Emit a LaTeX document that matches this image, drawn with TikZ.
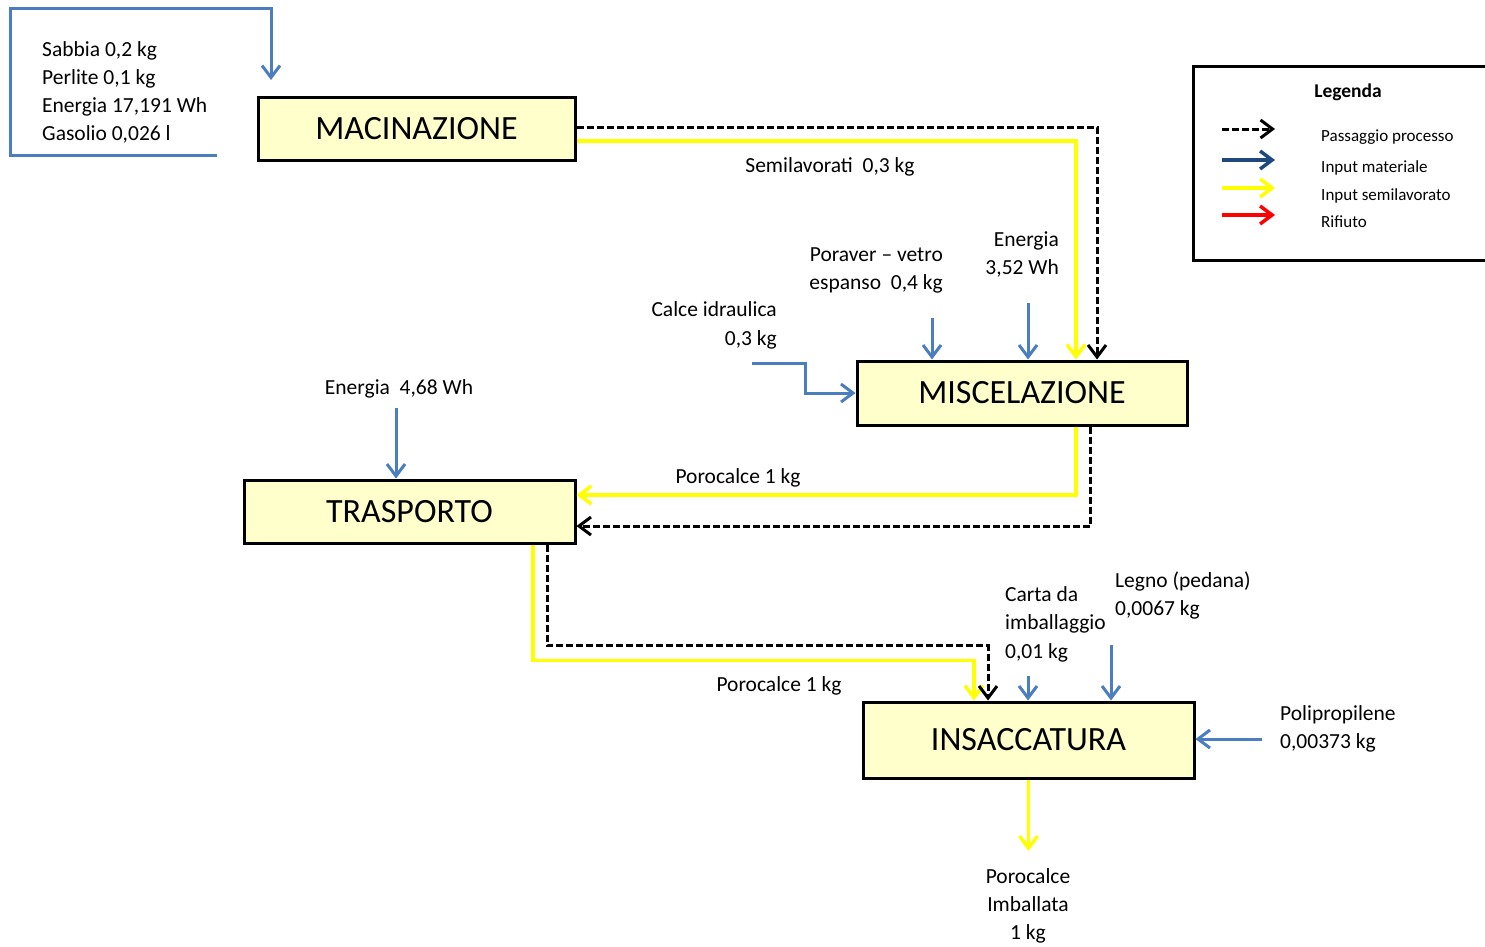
\documentclass[tikz,border=0pt]{standalone}
\usepackage{fontspec}
\setmainfont{Carlito}
\usetikzlibrary{arrows.meta}
\definecolor{matblue}{RGB}{74,126,190}
\definecolor{navyblue}{RGB}{31,73,125}
\definecolor{boxfill}{RGB}{255,255,204}
\definecolor{semiyellow}{RGB}{255,255,0}
\definecolor{wastered}{RGB}{255,0,0}
\begin{document}
\begin{tikzpicture}[x=1pt,y=-1pt,
  proc/.style={draw=black, line width=3pt, fill=boxfill, inner sep=0pt,
    font=\fontsize{34}{40}\selectfont},
  lbl/.style={inner sep=0pt, font=\fontsize{21.5}{28}\selectfont},
  leglbl/.style={inner sep=0pt, font=\fontsize{17}{20}\selectfont},
  vtip/.style={-{Straight Barb[length=12pt,width=18pt]}},
  matflow/.style={vtip, draw=matblue, line width=3pt},
  semiflow/.style={vtip, draw=semiyellow, line width=3.5pt},
  procflow/.style={vtip, draw=black, line width=3pt, dash pattern=on 7pt off 3pt},
  navyflow/.style={vtip, draw=navyblue, line width=3.5pt},
  wasteflow/.style={vtip, draw=wastered, line width=3.5pt},
]
\useasboundingbox (0,0) rectangle (1485,946);

% process boxes
\node[proc, minimum width=317pt, minimum height=63pt] (mac) at (416.5,128.5) {MACINAZIONE};
\node[proc, minimum width=330pt, minimum height=64pt] (mis) at (1022,393) {MISCELAZIONE};
\node[proc, minimum width=331pt, minimum height=63pt] (tra) at (409.5,511.5) {TRASPORTO};
\node[proc, minimum width=331pt, minimum height=76pt] (ins) at (1028.5,740) {INSACCATURA};

% inputs to MACINAZIONE
\coordinate (macin) at (217,155);
\draw[matflow] (macin) -- (10,155) -- (10,8) -- (271,8) -- (271,80);
\node[lbl, anchor=base west] (m1) at (42,56) {Sabbia 0,2 kg};
\node[lbl, anchor=base west] (m2) at (42,84) {Perlite 0,1 kg};
\node[lbl, anchor=base west] (m3) at (42,112) {Energia 17,191 Wh};
\node[lbl, anchor=base west] (m4) at (42,140) {Gasolio 0,026 l};

% MACINAZIONE -> MISCELAZIONE
\draw[procflow] ([yshift=1.5pt]mac.east) -| ([xshift=75pt]mis.north);
\draw[semiflow] ([yshift=-12.5pt]mac.east) -| ([xshift=54pt]mis.north);
\node[lbl, anchor=base] (semi) at (830,172) {Semilavorati\ \ 0,3 kg};

% inputs to MISCELAZIONE
\coordinate (por) at (932,318);
\coordinate (en2) at (1028,303);
\coordinate (cal) at (752,363);
\draw[matflow] (por) -- (por |- mis.north);
\draw[matflow] (en2) -- (en2 |- mis.north);
\draw[matflow] (cal) -- (805,363) |- (mis.west);
\node[lbl, anchor=base east] (p1) at (943,261) {Poraver – vetro};
\node[lbl, anchor=base east] (p2) at (943,289) {espanso\ \ 0,4 kg};
\node[lbl, anchor=base east] (e1) at (1059,246) {Energia};
\node[lbl, anchor=base east] (e2) at (1059,274) {3,52 Wh};
\node[lbl, anchor=base east] (c1) at (777,316) {Calce idraulica};
\node[lbl, anchor=base east] (c2) at (777,345) {0,3 kg};

% MISCELAZIONE -> TRASPORTO
\draw[semiflow] ([xshift=54pt]mis.south) |- ([yshift=16.5pt]tra.east);
\draw[procflow] ([xshift=68pt]mis.south) |- ([yshift=-14.5pt]tra.east);
\node[lbl, anchor=base] (poro1) at (738,483) {Porocalce 1 kg};

% input to TRASPORTO
\coordinate (en3) at (396,408);
\draw[matflow] (en3) -- (en3 |- tra.north);
\node[lbl, anchor=base] (t1) at (399,394) {Energia\ \ 4,68 Wh};

% TRASPORTO -> INSACCATURA
\draw[semiflow] ([xshift=123.5pt]tra.south) -- ++(0,116) -| ([xshift=-54.5pt]ins.north);
\draw[procflow] ([xshift=137.5pt]tra.south) -- ++(0,101) -| ([xshift=-40.5pt]ins.north);
\node[lbl, anchor=base] (poro2) at (779,691) {Porocalce 1 kg};

% inputs to INSACCATURA
\coordinate (car) at (1028,676);
\coordinate (leg) at (1111,645);
\coordinate (pol) at (1262,739);
\draw[matflow] (car) -- (car |- ins.north);
\draw[matflow] (leg) -- (leg |- ins.north);
\draw[matflow] (pol) -- (pol -| ins.east);
\node[lbl, anchor=base west] (i1) at (1005,601) {Carta da};
\node[lbl, anchor=base west] (i2) at (1005,629) {imballaggio};
\node[lbl, anchor=base west] (i3) at (1005,658) {0,01 kg};
\node[lbl, anchor=base west] (l1) at (1115,587) {Legno (pedana)};
\node[lbl, anchor=base west] (l2) at (1115,615) {0,0067 kg};
\node[lbl, anchor=base west] (q1) at (1280,720) {Polipropilene};
\node[lbl, anchor=base west] (q2) at (1280,748) {0,00373 kg};

% output
\coordinate (out) at (1028.5,851);
\draw[semiflow] (ins.south) -- (out);
\node[lbl, anchor=base] (o1) at (1028,883) {Porocalce};
\node[lbl, anchor=base] (o2) at (1028,911) {Imballata};
\node[lbl, anchor=base] (o3) at (1028,939) {1 kg};

% legend
\draw[line width=3pt] (1486,66) -- (1193,66) -- (1193,260) -- (1486,260);
\node[inner sep=0pt, anchor=base, font=\bfseries\fontsize{19.5}{22}\selectfont] (legt) at (1348,97) {Legenda};
\foreach \yy/\sty/\txt [count=\k] in {129/procflow/Passaggio processo,
    160/navyflow/Input materiale,
    188/semiflow/Input semilavorato,
    215/wasteflow/Rifiuto}{
  \coordinate (la\k) at (1222,\yy);
  \coordinate (lb\k) at (1275,\yy);
  \draw[\sty] (la\k) -- (lb\k);
  \node[leglbl, anchor=base west] (lt\k) at (1321,\yy+12.5) {\txt};
}
\end{tikzpicture}
\end{document}
